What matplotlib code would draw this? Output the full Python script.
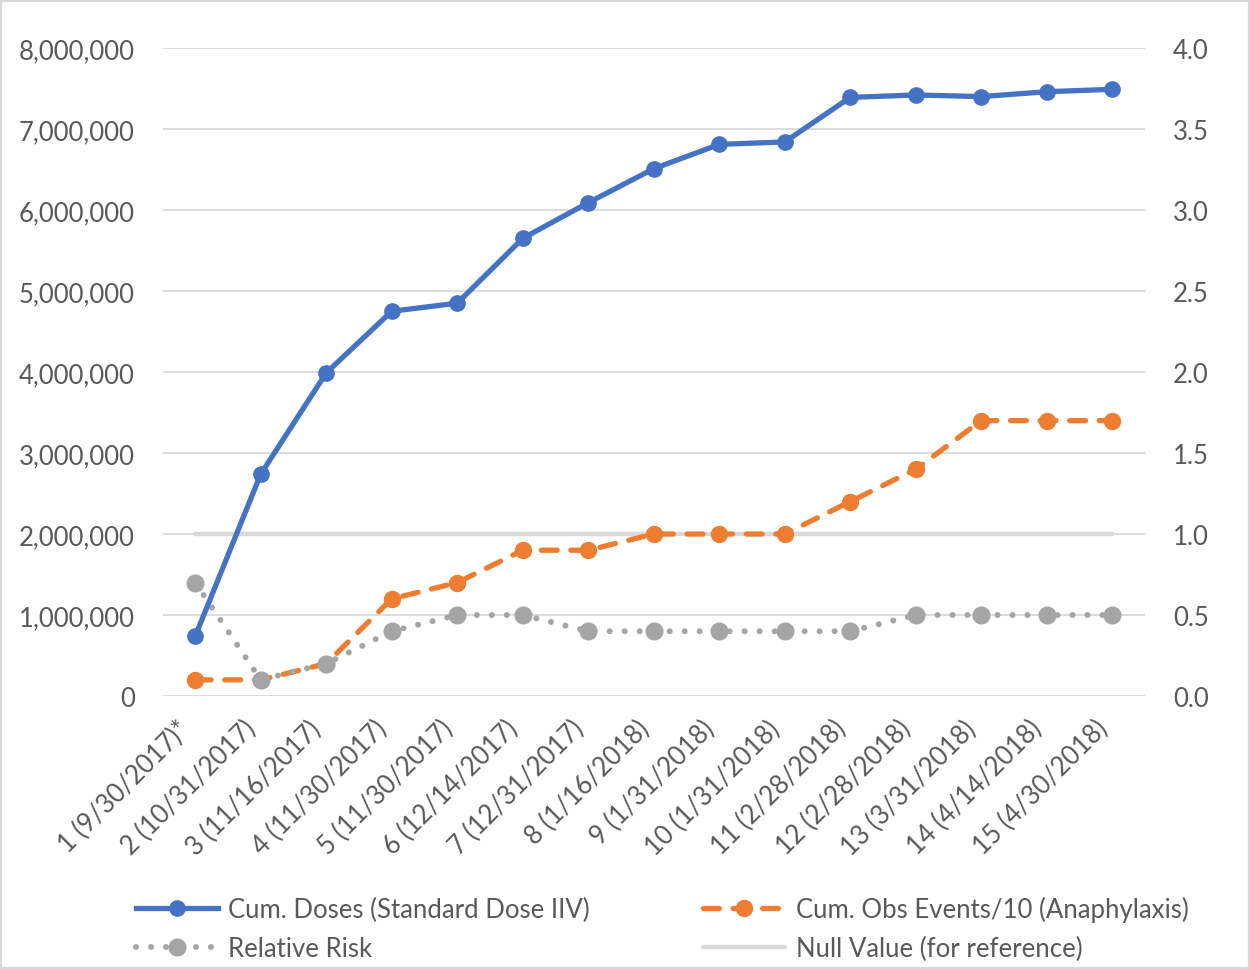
import matplotlib
matplotlib.use("Agg")
import matplotlib.pyplot as plt
from matplotlib.patches import Rectangle
from matplotlib.ticker import FuncFormatter, MultipleLocator

plt.rcParams['font.family'] = ['Lato', 'DejaVu Sans']

periods = ["1 (9/30/2017)*", "2 (10/31/2017)", "3 (11/16/2017)", "4 (11/30/2017)",
           "5 (11/30/2017)", "6 (12/14/2017)", "7 (12/31/2017)", "8 (1/16/2018)",
           "9 (1/31/2018)", "10 (1/31/2018)", "11 (2/28/2018)", "12 (2/28/2018)",
           "13 (3/31/2018)", "14 (4/14/2018)", "15 (4/30/2018)"]
cum_doses = [740000, 2740000, 3990000, 4750000, 4850000, 5650000, 6090000, 6510000,
             6810000, 6840000, 7390000, 7420000, 7400000, 7460000, 7490000]
cum_events_div10 = [0.1, 0.1, 0.2, 0.6, 0.7, 0.9, 0.9, 1.0, 1.0, 1.0, 1.2, 1.4, 1.7, 1.7, 1.7]
relative_risk = [0.7, 0.1, 0.2, 0.4, 0.5, 0.5, 0.4, 0.4, 0.4, 0.4, 0.4, 0.5, 0.5, 0.5, 0.5]
null_value = [1.0] * len(periods)

BLUE = "#4472C4"
ORANGE = "#ED7D31"
GRAY = "#A5A5A5"
LIGHT = "#D9D9D9"
TEXT = "#595959"
FS = 18.5

fig = plt.figure(figsize=(12.5, 9.7), dpi=100)
ax = fig.add_axes([0.130, 0.2814, 0.786, 0.6681])
ax2 = ax.twinx()
# doses axis drawn above the ratio axis so the blue line sits on top
ax.set_zorder(ax2.get_zorder() + 1)
ax.patch.set_visible(False)

x = list(range(len(periods)))

ax2.plot(x, null_value, color=LIGHT, lw=3.2, solid_capstyle='round', zorder=2,
         label="Null Value (for reference)")
ax2.plot(x, cum_events_div10, color=ORANGE, lw=3.8, linestyle=(0, (3.0, 2.6)),
         dash_capstyle='round', marker='o', markersize=11.5, zorder=3,
         label="Cum. Obs Events/10 (Anaphylaxis)")
ax2.plot(x, relative_risk, color=GRAY, lw=4.3, linestyle=(0, (0.01, 2.5)),
         dash_capstyle='round', marker='o', markersize=12, zorder=4,
         label="Relative Risk")
ax.plot(x, cum_doses, color=BLUE, lw=3.8, marker='o', markersize=11,
        solid_joinstyle='round', label="Cum. Doses (Standard Dose IIV)")

ax.set_xlim(-0.5, len(periods) - 0.5)
ax.set_ylim(0, 8000000)
ax2.set_ylim(0, 4.0)
ax.yaxis.set_major_locator(MultipleLocator(1000000))
ax2.yaxis.set_major_locator(MultipleLocator(0.5))
ax.yaxis.set_major_formatter(FuncFormatter(lambda v, p: f"{int(v):,}"))
ax2.yaxis.set_major_formatter(FuncFormatter(lambda v, p: f"{v:.1f}"))

ax2.grid(axis='y', color=LIGHT, lw=1.3, zorder=0)
ax2.set_axisbelow(True)

for a in (ax, ax2):
    for s in a.spines.values():
        s.set_visible(False)
    a.tick_params(length=0, colors=TEXT, labelsize=FS)

ax.tick_params(axis='y', pad=20)
ax2.tick_params(axis='y', pad=20)
ax.set_xticks(x)
ax.set_xticklabels(periods, rotation=45, ha='right', rotation_mode='default')
ax.tick_params(axis='x', pad=14)

h1, l1 = ax.get_legend_handles_labels()
h2, l2 = ax2.get_legend_handles_labels()
hd = dict(zip(l1 + l2, h1 + h2))
order = ["Cum. Doses (Standard Dose IIV)", "Relative Risk",
         "Cum. Obs Events/10 (Anaphylaxis)", "Null Value (for reference)"]
leg = fig.legend([hd[k] for k in order], order, loc='center left',
                 bbox_to_anchor=(136 / 1250, 0.042), ncol=2, frameon=False,
                 fontsize=FS, handlelength=3.2, handletextpad=0.4,
                 columnspacing=4.4, labelspacing=0.55, borderpad=0,
                 borderaxespad=0, numpoints=1)
for t in leg.get_texts():
    t.set_color(TEXT)

fig.patches.append(Rectangle((0.001, 0.001), 0.998, 0.997, transform=fig.transFigure,
                             fill=False, edgecolor=LIGHT, lw=1.6))

fig.savefig("out.png", dpi=100, facecolor="white")
